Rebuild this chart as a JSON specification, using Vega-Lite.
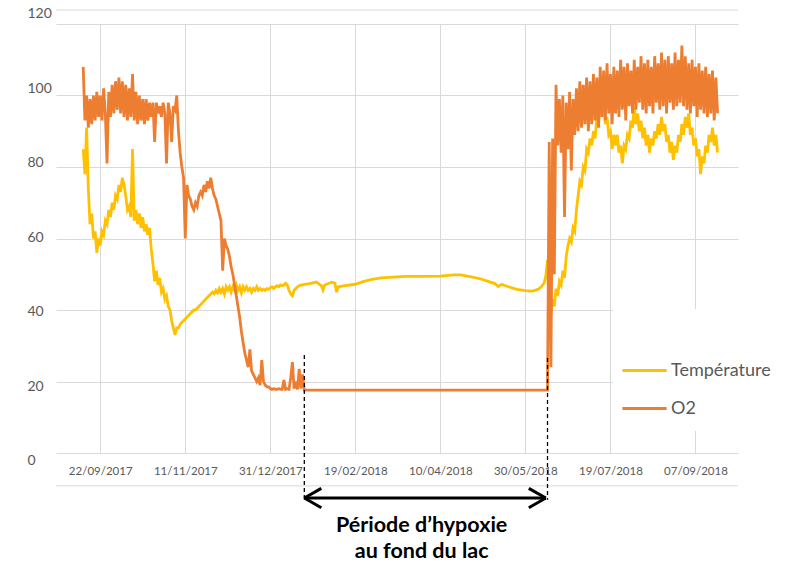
{
"$schema":"https://vega.github.io/schema/vega-lite/v6.json",
"width":682,"height":429,
"autosize":{"type":"none"},
"padding":{"left":56,"top":24,"right":48,"bottom":112},
"background":"white",
"config":{"view":{"stroke":null},"font":"Lato","axis":{"labelFont":"Lato"},"legend":{"labelFont":"Lato"}},
"datasets":{"series":[
{"d":"2017-09-12","t":85,"o":108},{"d":"2017-09-13","t":78,"o":93},{"d":"2017-09-14","t":91,"o":100},{"d":"2017-09-15","t":74,"o":91},{"d":"2017-09-16","t":64,"o":99},{"d":"2017-09-17","t":67,"o":92},{"d":"2017-09-18","t":60,"o":100},{"d":"2017-09-19","t":62,"o":93},{"d":"2017-09-20","t":56,"o":101},{"d":"2017-09-21","t":60,"o":94},{"d":"2017-09-22","t":58,"o":100},{"d":"2017-09-23","t":62,"o":93},{"d":"2017-09-24","t":61,"o":102},{"d":"2017-09-25","t":65,"o":95},{"d":"2017-09-26","t":64,"o":81},{"d":"2017-09-27","t":68,"o":101},{"d":"2017-09-28","t":66,"o":94},{"d":"2017-09-29","t":70,"o":103},{"d":"2017-09-30","t":68,"o":95},
{"d":"2017-10-01","t":72,"o":104},{"d":"2017-10-02","t":71,"o":96},{"d":"2017-10-03","t":75,"o":105},{"d":"2017-10-04","t":73,"o":95},{"d":"2017-10-05","t":77,"o":104},{"d":"2017-10-06","t":75,"o":94},{"d":"2017-10-07","t":72,"o":103},{"d":"2017-10-08","t":68,"o":93},{"d":"2017-10-09","t":69,"o":102},{"d":"2017-10-10","t":66,"o":94},{"d":"2017-10-11","t":85,"o":106},{"d":"2017-10-12","t":65,"o":93},{"d":"2017-10-13","t":68,"o":101},{"d":"2017-10-14","t":64,"o":92},{"d":"2017-10-15","t":67,"o":100},{"d":"2017-10-16","t":63,"o":93},{"d":"2017-10-17","t":66,"o":99},{"d":"2017-10-18","t":62,"o":92},{"d":"2017-10-19","t":64,"o":99},{"d":"2017-10-20","t":61,"o":93},{"d":"2017-10-21","t":63,"o":98},{"d":"2017-10-22","t":57,"o":94},{"d":"2017-10-23","t":53,"o":98},{"d":"2017-10-24","t":48,"o":87},{"d":"2017-10-25","t":51,"o":98},{"d":"2017-10-26","t":47,"o":95},{"d":"2017-10-27","t":49,"o":97},{"d":"2017-10-28","t":45,"o":94},{"d":"2017-10-29","t":46,"o":98},{"d":"2017-10-30","t":43,"o":95},{"d":"2017-10-31","t":44,"o":81},
{"d":"2017-11-01","t":41,"o":98},{"d":"2017-11-02","t":40,"o":95},{"d":"2017-11-03","t":37,"o":87},{"d":"2017-11-04","t":35,"o":97},{"d":"2017-11-05","t":33,"o":96},{"d":"2017-11-06","t":35,"o":100},{"d":"2017-11-07","t":35,"o":90},{"d":"2017-11-08","t":36,"o":84},{"d":"2017-11-09","t":36.5,"o":80},{"d":"2017-11-10","t":37,"o":77},{"d":"2017-11-11","t":37.5,"o":60},{"d":"2017-11-12","t":38,"o":75},{"d":"2017-11-13","t":38.5,"o":72},{"d":"2017-11-14","t":39,"o":71},{"d":"2017-11-15","t":39.5,"o":69},{"d":"2017-11-16","t":40,"o":68},{"d":"2017-11-17","t":40,"o":70},{"d":"2017-11-18","t":40.5,"o":69},{"d":"2017-11-19","t":41,"o":72},{"d":"2017-11-20","t":41.5,"o":73},{"d":"2017-11-21","t":42,"o":72},{"d":"2017-11-22","t":42.5,"o":75},{"d":"2017-11-23","t":43,"o":73},{"d":"2017-11-24","t":43.5,"o":76},{"d":"2017-11-25","t":44,"o":74},{"d":"2017-11-26","t":44.5,"o":77},{"d":"2017-11-27","t":45,"o":74},{"d":"2017-11-28","t":44.5,"o":72},{"d":"2017-11-29","t":45.5,"o":71},{"d":"2017-11-30","t":44.8,"o":69},
{"d":"2017-12-01","t":46,"o":67},{"d":"2017-12-02","t":45,"o":65},{"d":"2017-12-03","t":46,"o":51},{"d":"2017-12-04","t":44.5,"o":60},{"d":"2017-12-05","t":46.5,"o":58},{"d":"2017-12-06","t":45.5,"o":57},{"d":"2017-12-07","t":46.5,"o":55},{"d":"2017-12-08","t":45,"o":52},{"d":"2017-12-09","t":46.5,"o":50},{"d":"2017-12-10","t":45.5,"o":47},{"d":"2017-12-11","t":47,"o":44},{"d":"2017-12-12","t":45.5,"o":41},{"d":"2017-12-13","t":46.5,"o":38},{"d":"2017-12-14","t":44.8,"o":34},{"d":"2017-12-15","t":46.5,"o":31},{"d":"2017-12-16","t":45.5,"o":28},{"d":"2017-12-17","t":46.5,"o":26},{"d":"2017-12-18","t":45.5,"o":24},{"d":"2017-12-19","t":46,"o":29},{"d":"2017-12-20","t":45,"o":23},{"d":"2017-12-21","t":46,"o":22},{"d":"2017-12-22","t":45.5,"o":21},{"d":"2017-12-23","t":46.5,"o":20},{"d":"2017-12-24","t":45.5,"o":21},{"d":"2017-12-25","t":46,"o":19},{"d":"2017-12-26","t":45.5,"o":26},{"d":"2017-12-27","t":45.8,"o":20},{"d":"2017-12-28","t":45.5,"o":19},{"d":"2017-12-29","t":46,"o":18.5},{"d":"2017-12-30","t":45.8,"o":18.5},{"d":"2017-12-31","t":46.2,"o":18},
{"d":"2018-01-01","t":46.5,"o":17.8},{"d":"2018-01-02","t":46,"o":18},{"d":"2018-01-03","t":46.5,"o":17.8},{"d":"2018-01-04","t":46.8,"o":17.8},{"d":"2018-01-05","t":46.5,"o":18},{"d":"2018-01-06","t":47,"o":17.8},{"d":"2018-01-07","t":46.8,"o":17.8},{"d":"2018-01-08","t":47,"o":20.4},{"d":"2018-01-09","t":47.5,"o":17.8},{"d":"2018-01-10","t":47,"o":18},{"d":"2018-01-11","t":45.5,"o":17.8},{"d":"2018-01-12","t":44.5,"o":21},{"d":"2018-01-13","t":44,"o":25.4},{"d":"2018-01-14","t":45.5,"o":18},{"d":"2018-01-15","t":46,"o":20},{"d":"2018-01-16","t":46.5,"o":17.8},{"d":"2018-01-17","t":46.8,"o":23.5},{"d":"2018-01-18","t":47,"o":18},{"d":"2018-01-19","t":47,"o":22},{"d":"2018-01-20","t":47.2,"o":17.6},
{"d":"2018-01-23","t":47.4,"o":17.6},{"d":"2018-01-27","t":47.8,"o":17.6},{"d":"2018-01-30","t":46.8,"o":17.6},{"d":"2018-01-31","t":45.6,"o":17.6},{"d":"2018-02-01","t":47,"o":17.6},{"d":"2018-02-05","t":47.8,"o":17.6},{"d":"2018-02-07","t":47.5,"o":17.6},{"d":"2018-02-08","t":45,"o":17.6},{"d":"2018-02-09","t":46.5,"o":17.6},{"d":"2018-02-13","t":46.8,"o":17.6},{"d":"2018-02-19","t":47.2,"o":17.6},{"d":"2018-02-24","t":48,"o":17.6},{"d":"2018-03-01","t":48.6,"o":17.6},{"d":"2018-03-06","t":49,"o":17.6},{"d":"2018-03-13","t":49.2,"o":17.6},{"d":"2018-03-21","t":49.4,"o":17.6},{"d":"2018-03-31","t":49.4,"o":17.6},{"d":"2018-04-10","t":49.5,"o":17.6},{"d":"2018-04-18","t":49.8,"o":17.6},{"d":"2018-04-22","t":49.8,"o":17.6},{"d":"2018-04-28","t":49.3,"o":17.6},{"d":"2018-05-03","t":48.8,"o":17.6},{"d":"2018-05-08","t":48,"o":17.6},{"d":"2018-05-12","t":47.4,"o":17.6},{"d":"2018-05-14","t":46.6,"o":17.6},{"d":"2018-05-16","t":47.2,"o":17.6},{"d":"2018-05-20","t":46.5,"o":17.6},{"d":"2018-05-25","t":45.8,"o":17.6},{"d":"2018-05-30","t":45.4,"o":17.6},{"d":"2018-06-03","t":45.3,"o":17.6},{"d":"2018-06-06","t":45.7,"o":17.6},{"d":"2018-06-08","t":46.3,"o":17.6},{"d":"2018-06-10","t":47.5,"o":17.6},{"d":"2018-06-11","t":49.5,"o":17.6},
{"d":"2018-06-12","t":54,"o":17.6},{"d":"2018-06-13","t":40,"o":87},{"d":"2018-06-14","t":39,"o":24},{"d":"2018-06-15","t":43,"o":88},{"d":"2018-06-16","t":41,"o":50},{"d":"2018-06-17","t":46,"o":103},{"d":"2018-06-18","t":44,"o":86},{"d":"2018-06-19","t":48,"o":99},{"d":"2018-06-20","t":47,"o":84},{"d":"2018-06-21","t":51,"o":100},{"d":"2018-06-22","t":49,"o":66},{"d":"2018-06-23","t":55,"o":98},{"d":"2018-06-24","t":58,"o":85},{"d":"2018-06-25","t":60,"o":101},{"d":"2018-06-26","t":59,"o":79},{"d":"2018-06-27","t":63,"o":99},{"d":"2018-06-28","t":62,"o":89},{"d":"2018-06-29","t":68,"o":102},{"d":"2018-06-30","t":72,"o":90},
{"d":"2018-07-01","t":76,"o":104},{"d":"2018-07-02","t":75,"o":91},{"d":"2018-07-03","t":80,"o":103},{"d":"2018-07-04","t":79,"o":92},{"d":"2018-07-05","t":85,"o":105},{"d":"2018-07-06","t":84,"o":90},{"d":"2018-07-07","t":88,"o":104},{"d":"2018-07-08","t":86,"o":92},{"d":"2018-07-09","t":90,"o":106},{"d":"2018-07-10","t":88,"o":93},{"d":"2018-07-11","t":94,"o":105},{"d":"2018-07-12","t":92,"o":91},{"d":"2018-07-13","t":99,"o":108},{"d":"2018-07-14","t":95,"o":94},{"d":"2018-07-15","t":97,"o":107},{"d":"2018-07-16","t":92,"o":93},{"d":"2018-07-17","t":94,"o":109},{"d":"2018-07-18","t":89,"o":95},{"d":"2018-07-19","t":90,"o":106},{"d":"2018-07-20","t":85,"o":92},{"d":"2018-07-21","t":89,"o":108},{"d":"2018-07-22","t":86,"o":95},{"d":"2018-07-23","t":89,"o":107},{"d":"2018-07-24","t":84,"o":94},{"d":"2018-07-25","t":86,"o":110},{"d":"2018-07-26","t":81,"o":96},{"d":"2018-07-27","t":86,"o":108},{"d":"2018-07-28","t":85,"o":93},{"d":"2018-07-29","t":89,"o":109},{"d":"2018-07-30","t":88,"o":97},{"d":"2018-07-31","t":93,"o":107},
{"d":"2018-08-01","t":91,"o":95},{"d":"2018-08-02","t":97,"o":110},{"d":"2018-08-03","t":92,"o":96},{"d":"2018-08-04","t":95,"o":108},{"d":"2018-08-05","t":90,"o":98},{"d":"2018-08-06","t":93,"o":111},{"d":"2018-08-07","t":88,"o":96},{"d":"2018-08-08","t":91,"o":109},{"d":"2018-08-09","t":86,"o":95},{"d":"2018-08-10","t":89,"o":110},{"d":"2018-08-11","t":84,"o":97},{"d":"2018-08-12","t":88,"o":108},{"d":"2018-08-13","t":86,"o":95},{"d":"2018-08-14","t":90,"o":111},{"d":"2018-08-15","t":88,"o":98},{"d":"2018-08-16","t":92,"o":109},{"d":"2018-08-17","t":89,"o":96},{"d":"2018-08-18","t":94,"o":112},{"d":"2018-08-19","t":90,"o":97},{"d":"2018-08-20","t":92,"o":110},{"d":"2018-08-21","t":87,"o":95},{"d":"2018-08-22","t":89,"o":111},{"d":"2018-08-23","t":84,"o":98},{"d":"2018-08-24","t":87,"o":109},{"d":"2018-08-25","t":82,"o":96},{"d":"2018-08-26","t":86,"o":112},{"d":"2018-08-27","t":84,"o":97},{"d":"2018-08-28","t":89,"o":110},{"d":"2018-08-29","t":87,"o":98},{"d":"2018-08-30","t":92,"o":114},{"d":"2018-08-31","t":89,"o":97},
{"d":"2018-09-01","t":94,"o":111},{"d":"2018-09-02","t":91,"o":96},{"d":"2018-09-03","t":95,"o":109},{"d":"2018-09-04","t":89,"o":95},{"d":"2018-09-05","t":91,"o":110},{"d":"2018-09-06","t":86,"o":97},{"d":"2018-09-07","t":88,"o":108},{"d":"2018-09-08","t":83,"o":94},{"d":"2018-09-09","t":85,"o":109},{"d":"2018-09-10","t":78,"o":96},{"d":"2018-09-11","t":83,"o":107},{"d":"2018-09-12","t":81,"o":95},{"d":"2018-09-13","t":86,"o":108},{"d":"2018-09-14","t":84,"o":94},{"d":"2018-09-15","t":89,"o":106},{"d":"2018-09-16","t":87,"o":95},{"d":"2018-09-17","t":91,"o":107},{"d":"2018-09-18","t":86,"o":93},{"d":"2018-09-19","t":89,"o":105},{"d":"2018-09-20","t":84,"o":95}
]},
"layer":[
{"data":{"name":"series"},
 "mark":{"type":"line","strokeWidth":2.8,"clip":false},
 "encoding":{
  "x":{"field":"d","type":"temporal","scale":{"type":"utc","domain":[{"year":2017,"month":8,"date":27,"utc":true},{"year":2018,"month":10,"date":2,"utc":true}]},
   "axis":{"values":[{"year":2017,"month":9,"date":22,"utc":true},{"year":2017,"month":11,"date":11,"utc":true},{"year":2017,"month":12,"date":31,"utc":true},{"year":2018,"month":2,"date":19,"utc":true},{"year":2018,"month":4,"date":10,"utc":true},{"year":2018,"month":5,"date":30,"utc":true},{"year":2018,"month":7,"date":19,"utc":true},{"year":2018,"month":9,"date":7,"utc":true}],
    "format":"%d/%m/%Y","title":null,"grid":true,"gridColor":"#d9d9d9","gridWidth":1,"domain":false,"ticks":false,"labelPadding":12,"labelFontSize":11.5,"labelColor":"#595959","labelOverlap":false,"labelFlush":false}},
  "y":{"field":"t","type":"quantitative","scale":{"domain":[0,120]},
   "axis":{"values":[0,20,40,60,80,100,120],"title":null,"grid":true,"gridColor":"#d9d9d9","gridWidth":1,"domain":false,"ticks":false,"labelAlign":"left","labelBaseline":"middle","labelPadding":29,"labelFontSize":14,"labelColor":"#595959","labelOffset":{"expr":"(52 - datum.value) * 0.15"}}},
  "color":{"datum":"Température","scale":{"domain":["Température","O2"],"range":["#FFC000","#ED7D31"]},
   "legend":{"orient":"none","legendX":557,"legendY":285,"title":" ","titleFontSize":1,"titlePadding":29,"padding":13,"fillColor":"white","symbolType":"M-1.3,0H1.3","symbolSize":1156,"symbolStrokeWidth":3,"labelFontSize":18,"labelColor":"#595959","labelOffset":8,"rowPadding":10}}
 }},
{"data":{"name":"series"},
 "mark":{"type":"line","strokeWidth":2.8,"clip":false},
 "encoding":{
  "x":{"field":"d","type":"temporal","scale":{"type":"utc","domain":[{"year":2017,"month":8,"date":27,"utc":true},{"year":2018,"month":10,"date":2,"utc":true}]}},
  "y":{"field":"o","type":"quantitative","scale":{"domain":[0,120]}},
  "color":{"datum":"O2","scale":{"domain":["Température","O2"],"range":["#FFC000","#ED7D31"]}}
 }},
{"data":{"values":[{"y":123.9},{"y":-9.2}]},
 "mark":{"type":"rule","color":"#d9d9d9","strokeWidth":1,"clip":false},
 "encoding":{"y":{"field":"y","type":"quantitative","scale":{"domain":[0,120]}}}},
{"data":{"values":[{"a":"2018-01-20","y1":27.4,"y2":-13.1},{"a":"2018-06-12","y1":26.6,"y2":-13.1}]},
 "mark":{"type":"rule","color":"black","strokeWidth":1.3,"strokeDash":[4,3],"clip":false},
 "encoding":{
  "x":{"field":"a","type":"temporal","scale":{"type":"utc","domain":[{"year":2017,"month":8,"date":27,"utc":true},{"year":2018,"month":10,"date":2,"utc":true}]}},
  "y":{"field":"y1","type":"quantitative","scale":{"domain":[0,120]}},
  "y2":{"field":"y2"}
 }},
{"data":{"values":[
  {"a":"2018-01-20","b":"2018-06-11","y1":-12.6,"y2":-12.6},
  {"a":"2018-01-20","b":"2018-01-30","y1":-12.6,"y2":-9.9},
  {"a":"2018-01-20","b":"2018-01-30","y1":-12.6,"y2":-15.3},
  {"a":"2018-06-11","b":"2018-06-01","y1":-12.6,"y2":-9.9},
  {"a":"2018-06-11","b":"2018-06-01","y1":-12.6,"y2":-15.3}]},
 "mark":{"type":"rule","color":"black","strokeWidth":3,"clip":false},
 "encoding":{
  "x":{"field":"a","type":"temporal","scale":{"type":"utc","domain":[{"year":2017,"month":8,"date":27,"utc":true},{"year":2018,"month":10,"date":2,"utc":true}]}},
  "x2":{"field":"b"},
  "y":{"field":"y1","type":"quantitative","scale":{"domain":[0,120]}},
  "y2":{"field":"y2"}
 }},
{"data":{"values":[{"a":"2018-03-30","y":-20.4,"txt":"Période d’hypoxie"},{"a":"2018-03-30","y":-27.7,"txt":"au fond du lac"}]},
 "mark":{"type":"text","font":"Lato","fontWeight":"bold","fontSize":21.5,"color":"black","align":"center","baseline":"middle","clip":false},
 "encoding":{
  "x":{"field":"a","type":"temporal","scale":{"type":"utc","domain":[{"year":2017,"month":8,"date":27,"utc":true},{"year":2018,"month":10,"date":2,"utc":true}]}},
  "y":{"field":"y","type":"quantitative","scale":{"domain":[0,120]}},
  "text":{"field":"txt"}
 }}
]
}
